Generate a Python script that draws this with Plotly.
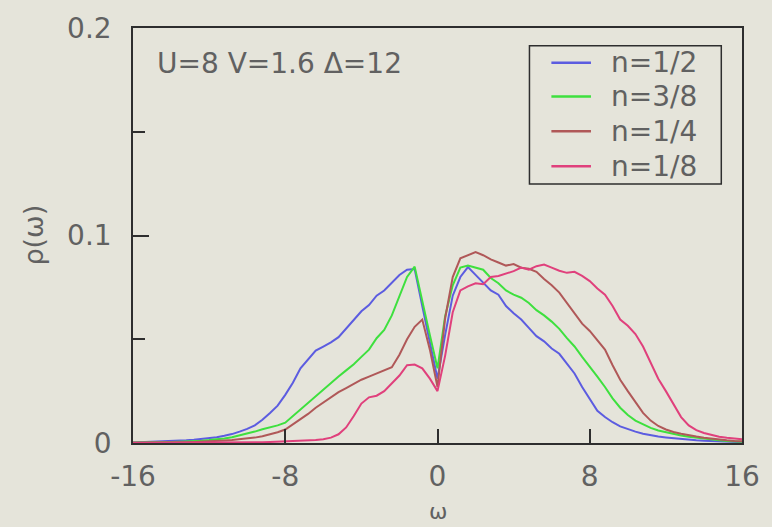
import numpy as np
import plotly.graph_objects as go

# frequency grid
omega = np.round(np.arange(-16.0, 16.0001, 0.4), 2)

# spectral density rho(omega) for each filling
rho_half = [
    0.0003, 0.0004, 0.0005, 0.0006, 0.0007, 0.0009, 0.0011, 0.0013, 0.0016, 0.0019,
    0.0023, 0.0028, 0.0035, 0.0043, 0.0055, 0.0068, 0.0085, 0.0112, 0.0145, 0.0180,
    0.0232, 0.0290, 0.0360, 0.0405, 0.0445, 0.0465, 0.0485, 0.0510, 0.0550, 0.0595,
    0.0635, 0.0665, 0.0710, 0.0735, 0.0775, 0.0810, 0.0835, 0.0838, 0.0660, 0.0490,
    0.0310, 0.0520, 0.0710, 0.0800, 0.0848, 0.0810, 0.0770, 0.0735, 0.0715, 0.0660,
    0.0625, 0.0595, 0.0555, 0.0515, 0.0490, 0.0455, 0.0430, 0.0385, 0.0335, 0.0270,
    0.0210, 0.0155, 0.0125, 0.0100, 0.0080, 0.0066, 0.0055, 0.0045, 0.0037, 0.0031,
    0.0027, 0.0023, 0.0019, 0.0016, 0.0013, 0.0011, 0.0009, 0.0007, 0.0006, 0.0005,
    0.0004,
]
rho_3_8 = [
    0.0002, 0.0002, 0.0003, 0.0003, 0.0004, 0.0005, 0.0006, 0.0007, 0.0009, 0.0011,
    0.0014, 0.0017, 0.0022, 0.0028, 0.0036, 0.0045, 0.0055, 0.0066, 0.0075, 0.0085,
    0.0098, 0.0130, 0.0160, 0.0195, 0.0225, 0.0260, 0.0290, 0.0320, 0.0350, 0.0380,
    0.0415, 0.0450, 0.0505, 0.0545, 0.0615, 0.0705, 0.0800, 0.0850, 0.0680, 0.0520,
    0.0360, 0.0610, 0.0760, 0.0845, 0.0855, 0.0845, 0.0835, 0.0795, 0.0770, 0.0735,
    0.0715, 0.0700, 0.0675, 0.0640, 0.0615, 0.0585, 0.0550, 0.0505, 0.0465, 0.0415,
    0.0370, 0.0320, 0.0270, 0.0215, 0.0170, 0.0135, 0.0108, 0.0090, 0.0073, 0.0060,
    0.0051, 0.0044, 0.0036, 0.0030, 0.0025, 0.0020, 0.0016, 0.0013, 0.0010, 0.0008,
    0.0006,
]
rho_quarter = [
    0.0001, 0.0001, 0.0001, 0.0002, 0.0002, 0.0003, 0.0003, 0.0004, 0.0005, 0.0006,
    0.0008, 0.0010, 0.0012, 0.0014, 0.0017, 0.0021, 0.0026, 0.0033, 0.0042, 0.0052,
    0.0065, 0.0090, 0.0115, 0.0140, 0.0170, 0.0195, 0.0220, 0.0245, 0.0265, 0.0285,
    0.0305, 0.0320, 0.0335, 0.0350, 0.0365, 0.0425, 0.0500, 0.0560, 0.0595, 0.0450,
    0.0270, 0.0600, 0.0800, 0.0890, 0.0905, 0.0920, 0.0905, 0.0885, 0.0870, 0.0855,
    0.0862, 0.0845, 0.0840, 0.0825, 0.0790, 0.0760, 0.0725, 0.0675, 0.0620, 0.0575,
    0.0540, 0.0495, 0.0450, 0.0375, 0.0305, 0.0250, 0.0200, 0.0145, 0.0108, 0.0082,
    0.0065, 0.0053, 0.0045, 0.0037, 0.0031, 0.0025, 0.0020, 0.0016, 0.0013, 0.0010,
    0.0008,
]
rho_eighth = [
    0.0001, 0.0001, 0.0001, 0.0001, 0.0001, 0.0001, 0.0001, 0.0001, 0.0001, 0.0001,
    0.0002, 0.0002, 0.0002, 0.0002, 0.0003, 0.0003, 0.0004, 0.0004, 0.0005, 0.0006,
    0.0007, 0.0008, 0.0009, 0.0011, 0.0014, 0.0018, 0.0026, 0.0042, 0.0075, 0.0130,
    0.0190, 0.0220, 0.0228, 0.0250, 0.0290, 0.0325, 0.0375, 0.0378, 0.0360, 0.0310,
    0.0250, 0.0420, 0.0630, 0.0735, 0.0755, 0.0770, 0.0765, 0.0800, 0.0805, 0.0815,
    0.0828, 0.0845, 0.0835, 0.0852, 0.0860, 0.0845, 0.0830, 0.0820, 0.0825, 0.0805,
    0.0780, 0.0745, 0.0715, 0.0660, 0.0595, 0.0565, 0.0525, 0.0465, 0.0385, 0.0310,
    0.0250, 0.0185, 0.0125, 0.0085, 0.0062, 0.0048, 0.0038, 0.0030, 0.0025, 0.0021,
    0.0018,
]

series_names = ["n=1/2", "n=3/8", "n=1/4", "n=1/8"]
series_values = [rho_half, rho_3_8, rho_quarter, rho_eighth]
series_colors = ["#5c5ce0", "#3ee03e", "#b05858", "#e0407c"]

x_tick_vals = [-16, -8, 0, 8, 16]
x_tick_text = ["-16", "-8", "0", "8", "16"]
y_tick_vals = [0, 0.1, 0.2]
y_tick_text = ["0", "0.1", "0.2"]

FONT = "DejaVu Sans"
TEXT_GREY = "#616161"
FRAME = "#2e2e2e"
BG = "#e5e4da"
FS = 28

fig = go.Figure()
for name, vals, col in zip(series_names, series_values, series_colors):
    fig.add_trace(go.Scatter(
        x=omega, y=vals, mode="lines", name=name,
        line=dict(color=col, width=2), showlegend=False,
    ))

# boxed key in the upper right corner of the plot (paper coordinates)
key_left, key_right, key_top, key_bottom = 0.651, 0.966, 0.957, 0.624
row_y = [0.916, 0.835, 0.751, 0.667]
shapes = [dict(type="rect", xref="paper", yref="paper",
               x0=key_left, x1=key_right, y0=key_bottom, y1=key_top,
               line=dict(color=FRAME, width=1.5), fillcolor="rgba(0,0,0,0)")]
annotations = []
for name, col, yy in zip(series_names, series_colors, row_y):
    shapes.append(dict(type="line", xref="paper", yref="paper",
                       x0=0.687, x1=0.752, y0=yy, y1=yy,
                       line=dict(color=col, width=2.5)))
    annotations.append(dict(text=name, xref="paper", yref="paper",
                            x=0.781, y=yy, xanchor="left", yanchor="middle",
                            showarrow=False,
                            font=dict(family=FONT, size=FS, color=TEXT_GREY)))

annotations += [
    dict(text="U=8 V=1.6 \u0394=12", xref="paper", yref="paper",
         x=0.036, y=0.914, xanchor="left", yanchor="middle",
         showarrow=False, font=dict(family=FONT, size=FS, color=TEXT_GREY)),
    dict(text="\u03c1(\u03c9)", xref="paper", yref="paper",
         x=-0.164, y=0.5, xanchor="center", yanchor="middle",
         textangle=-90, showarrow=False,
         font=dict(family=FONT, size=27, color=TEXT_GREY)),
    dict(text="\u03c9", xref="paper", yref="paper",
         x=0.5, y=-0.201, xanchor="center", yanchor="bottom",
         showarrow=False, font=dict(family=FONT, size=22, color=TEXT_GREY)),
]

fig.update_layout(
    width=772, height=527,
    margin=dict(l=133, r=29, t=25, b=84),
    paper_bgcolor=BG, plot_bgcolor=BG,
    font=dict(family=FONT, size=FS, color=TEXT_GREY),
    showlegend=False,
    shapes=shapes,
    annotations=annotations,
    xaxis=dict(
        range=[-16, 16], tickvals=x_tick_vals, ticktext=x_tick_text,
        ticks="inside", ticklen=14, tickwidth=1.5, tickcolor=FRAME,
        ticklabelstandoff=8,
        showline=True, linecolor=FRAME, linewidth=1.5, mirror=True,
        showgrid=False, zeroline=False,
        tickfont=dict(family=FONT, size=FS, color=TEXT_GREY),
    ),
    yaxis=dict(
        range=[0, 0.2], tickvals=y_tick_vals, ticktext=y_tick_text,
        ticks="inside", ticklen=16, tickwidth=1.5, tickcolor=FRAME,
        ticklabelstandoff=14,
        minor=dict(tickvals=[0.05, 0.15], ticks="inside", ticklen=12,
                   tickwidth=1.5, tickcolor=FRAME),
        showline=True, linecolor=FRAME, linewidth=1.5, mirror=True,
        showgrid=False, zeroline=False,
        tickfont=dict(family=FONT, size=FS, color=TEXT_GREY),
    ),
)

fig.write_html("out.html")
